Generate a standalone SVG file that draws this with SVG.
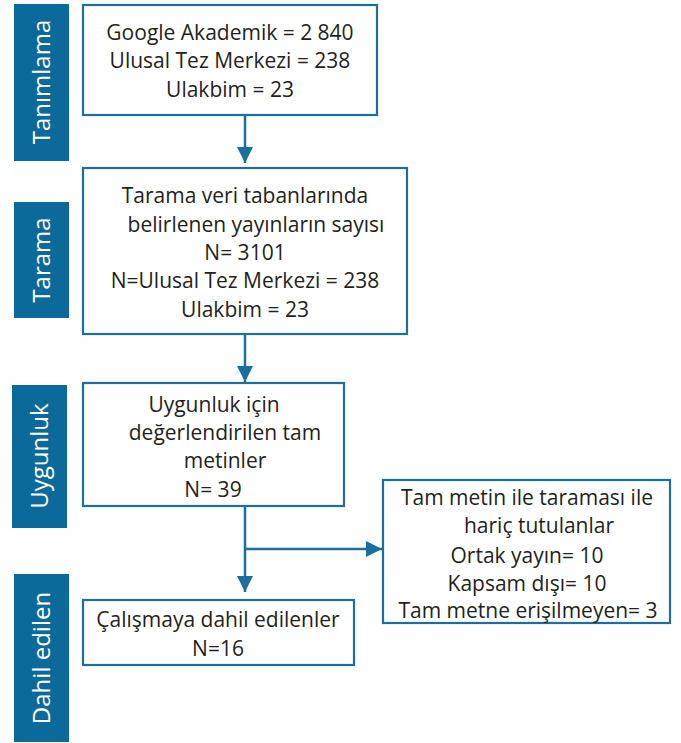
<svg xmlns="http://www.w3.org/2000/svg" width="681" height="743" viewBox="0 0 681 743">
<defs>
<style>
.bar{fill:#0c6a9b}
.bt{fill:#ffffff;font-family:"Open Sans","Liberation Sans",Arial,sans-serif;font-size:24px;text-anchor:middle}
.box{fill:#ffffff;stroke:#1a6fa0;stroke-width:2.2}
.t{fill:#231f20;font-family:"Open Sans","Liberation Sans",Arial,sans-serif;font-size:21px;text-anchor:middle}
.c{fill:none;stroke:#1a6fa0;stroke-width:2.5}
</style>
<marker id="ah" viewBox="0 0 10 10" refX="10" refY="5" markerWidth="6.4" markerHeight="6.4" markerUnits="strokeWidth" orient="auto">
<path d="M0,0 L10,5 L0,10 z" fill="#1a6fa0"/>
</marker>
</defs>
<rect width="681" height="743" fill="#ffffff"/>
<g id="bar-tanimlama">
<rect class="bar" x="14" y="4" width="55" height="157"/>
<text class="bt" transform="translate(50,82) rotate(-90)">Tanımlama</text>
</g>
<g id="bar-tarama">
<rect class="bar" x="14" y="202" width="55" height="116"/>
<text class="bt" transform="translate(50,260) rotate(-90)">Tarama</text>
</g>
<g id="bar-uygunluk">
<rect class="bar" x="12" y="385" width="55" height="143"/>
<text class="bt" transform="translate(48,456) rotate(-90)">Uygunluk</text>
</g>
<g id="bar-dahil">
<rect class="bar" x="14" y="574" width="55" height="168"/>
<text class="bt" transform="translate(50,658) rotate(-90)">Dahil edilen</text>
</g>
<g id="connectors">
<line class="c" x1="245" y1="115" x2="245" y2="163" marker-end="url(#ah)"/>
<line class="c" x1="245" y1="334" x2="245" y2="382" marker-end="url(#ah)"/>
<line class="c" x1="245" y1="506" x2="245" y2="592" marker-end="url(#ah)"/>
<line class="c" x1="245" y1="549" x2="382" y2="549" marker-end="url(#ah)"/>
</g>
<g id="node-tanimlama">
<rect class="box" x="83" y="5" width="294" height="110"/>
<text class="t" x="230" y="40">Google Akademik = 2 840</text>
<text class="t" x="230" y="68">Ulusal Tez Merkezi = 238</text>
<text class="t" x="230" y="97">Ulakbim = 23</text>
</g>
<g id="node-tarama">
<rect class="box" x="83" y="168" width="324" height="166"/>
<text class="t" x="245" y="203">Tarama veri tabanlarında</text>
<text class="t" x="256" y="232">belirlenen yayınların sayısı</text>
<text class="t" x="245" y="260">N= 3101</text>
<text class="t" x="245" y="288">N=Ulusal Tez Merkezi = 238</text>
<text class="t" x="245" y="317">Ulakbim = 23</text>
</g>
<g id="node-uygunluk">
<rect class="box" x="83" y="383" width="261" height="123"/>
<text class="t" x="214" y="412">Uygunluk için</text>
<text class="t" x="225" y="440">değerlendirilen tam</text>
<text class="t" x="225" y="468">metinler</text>
<text class="t" x="213" y="497">N= 39</text>
</g>
<g id="node-dahil">
<rect class="box" x="83" y="600" width="271" height="65"/>
<text class="t" x="218" y="627">Çalışmaya dahil edilenler</text>
<text class="t" x="218" y="656">N=16</text>
</g>
<g id="node-haric">
<rect class="box" x="383" y="480" width="287" height="143"/>
<text class="t" x="527" y="505">Tam metin ile taraması ile</text>
<text class="t" x="539" y="533">hariç tutulanlar</text>
<text class="t" x="527" y="563">Ortak yayın= 10</text>
<text class="t" x="527" y="591">Kapsam dışı= 10</text>
<text class="t" x="528" y="618">Tam metne erişilmeyen= 3</text>
</g>
</svg>
